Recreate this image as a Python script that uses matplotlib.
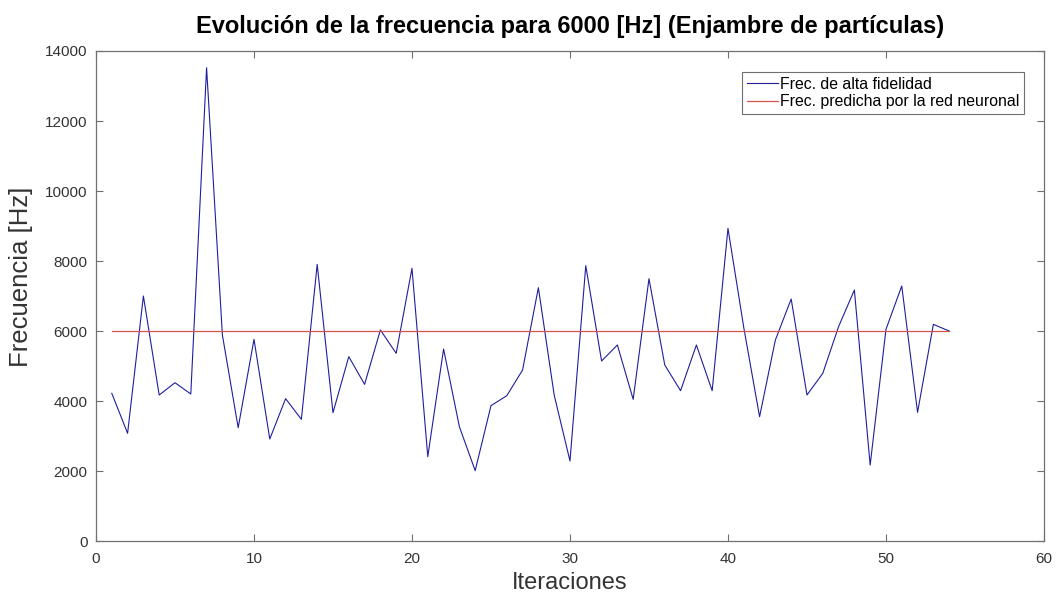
import matplotlib
matplotlib.use("Agg")
import matplotlib.pyplot as plt

iteraciones = list(range(1, 55))
frec_alta = [4220, 3077, 7000, 4171, 4523, 4200, 13523, 5886, 3238, 5762,
             2914, 4067, 3476, 7905, 3667, 5267, 4476, 6029, 5362, 7790,
             2410, 5486, 3267, 2010, 3867, 4152, 4886, 7238, 4171, 2286,
             7867, 5143, 5600, 4048, 7495, 5029, 4295, 5600, 4295, 8933,
             6100, 3552, 5743, 6914, 4171, 4790, 6124, 7171, 2171, 6048,
             7286, 3676, 6190, 6000]
frec_red = [6000] * len(iteraciones)

plt.rcParams['font.family'] = ['Liberation Sans', 'DejaVu Sans']

fig = plt.figure(figsize=(10.56, 6.0), dpi=100)
ax = fig.add_axes([0.0909, 0.0983, 0.8977, 0.8167])

ax.plot(iteraciones, frec_alta, color='#1f1f9e', lw=0.8, label='Frec. de alta fidelidad')
ax.plot(iteraciones, frec_red, color='#d9534f', lw=0.9, label='Frec. predicha por la red neuronal')

ax.set_xlim(0, 60)
ax.set_ylim(0, 14000)
ax.set_xticks(range(0, 61, 10))
ax.set_yticks(range(0, 14001, 2000))
ax.tick_params(direction='in', top=True, right=True, length=5, width=0.8,
               labelsize=11, colors='#707070', labelcolor='#333333', pad=6)
ax.tick_params(axis='x', pad=8)
for s in ax.spines.values():
    s.set_color('#707070')
    s.set_linewidth(0.9)

ax.set_xlabel('Iteraciones', fontsize=17, color='#333333', labelpad=4)
ax.set_ylabel('Frecuencia [Hz]', fontsize=18.5, color='#333333')
ax.yaxis.set_label_coords(-0.066, 0.54)
ax.set_title('Evolución de la frecuencia para 6000 [Hz] (Enjambre de partículas)',
             fontsize=17, fontweight='bold', pad=13)

leg = ax.legend(loc='upper right', bbox_to_anchor=(0.979, 0.957), fontsize=11.4,
                handlelength=2.0, handletextpad=0.1, borderpad=0.3,
                labelspacing=0.15, borderaxespad=0.0, fancybox=False, framealpha=1)
leg.get_frame().set_edgecolor('#707070')
leg.get_frame().set_linewidth(0.8)

fig.savefig('out.png', dpi=100)
